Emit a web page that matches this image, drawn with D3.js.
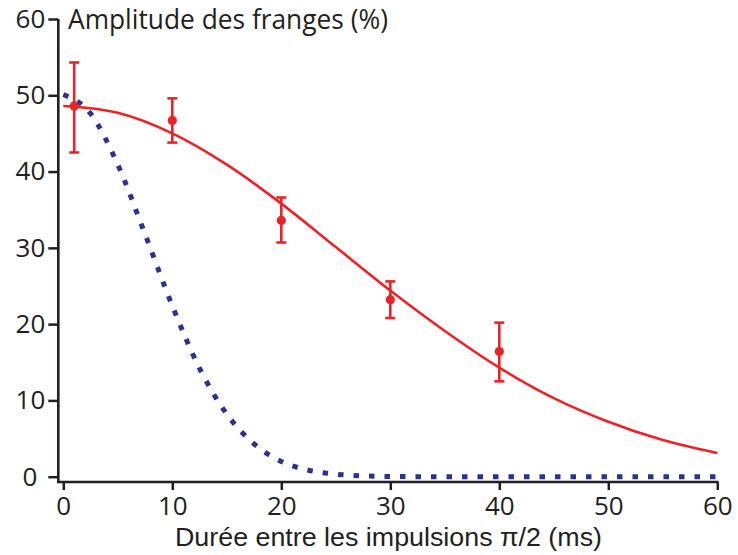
<!DOCTYPE html>
<html>
<head>
<meta charset="utf-8">
<script src="https://cdn.jsdelivr.net/npm/d3@7"></script>
<style>
  html, body { margin: 0; padding: 0; background: #fff; }
  svg { display: block; }
  text { font-family: "Open Sans", "Noto Sans", sans-serif; fill: #231f20; }
  .xfont { font-family: "Liberation Sans", Arial, sans-serif; }
</style>
</head>
<body>
<svg id="chart" width="738" height="555"></svg>
<script>
// Measured fringe amplitude (%) versus delay between the two pi/2 pulses (ms)
const delays = [1, 10, 20, 30, 40];
const amplitude = [48.6, 46.7, 33.6, 23.2, 16.4];
const errLow = [42.5, 43.8, 30.7, 20.8, 12.5];
const errHigh = [54.3, 49.6, 36.6, 25.6, 20.2];

// Fitted decay of the measured amplitude
const fitT = [0, 5, 10, 15, 20, 25, 30, 35, 40, 45, 50, 55, 60];
const fitA = [48.6, 47.7, 45.0, 40.9, 35.8, 30.1, 24.4, 19.1, 14.3, 10.3, 7.2, 4.8, 3.1];

// Expected decay without compensation (dotted)
const refT = [0, 2.5, 5, 7.5, 10, 12.5, 15, 17.5, 20, 22.5, 25, 27.5, 30, 35, 40, 45, 50, 55, 60];
const refA = [50.1, 47.6, 40.9, 31.8, 22.4, 14.2, 8.2, 4.3, 2.0, 0.85, 0.33, 0.11, 0.03, 0, 0, 0, 0, 0, 0];

const xTicks = [0, 10, 20, 30, 40, 50, 60];
const yTicks = [0, 10, 20, 30, 40, 50, 60];

const titleText = "Amplitude des franges (%)";
const xLabelText = "Durée entre les impulsions π/2 (ms)";

const RED = "#ec2227";
const BLUE = "#2e3192";
const INK = "#231f20";

const svg = d3.select("#chart");

const x = d3.scaleLinear().domain([0, 60]).range([63.3, 717.3]);
const y = d3.scaleLinear().domain([0, 60]).range([476.7, 19]);

const axisX0 = 58.3;   // y axis sits a little left of x = 0
const axisY0 = 482;    // x axis sits a little below y = 0

// Axes
const yAxis = d3.axisLeft(y).tickValues(yTicks).tickSize(10).tickSizeOuter(0).tickPadding(3);
const gy = svg.append("g").attr("transform", `translate(${axisX0},0)`).call(yAxis);
gy.select(".domain").remove();
gy.selectAll(".tick line").attr("stroke", INK).attr("stroke-width", 2.5);
gy.selectAll(".tick text").attr("font-size", 26).attr("fill", INK)
  .attr("dx", d => d === 0 ? -8 : 0);

const xAxis = d3.axisBottom(x).tickValues(xTicks).tickSize(8).tickSizeOuter(0).tickPadding(8);
const gx = svg.append("g").attr("transform", `translate(0,${axisY0})`).call(xAxis);
gx.select(".domain").remove();
gx.selectAll(".tick line").attr("stroke", INK).attr("stroke-width", 2.5);
gx.selectAll(".tick text").attr("font-size", 26).attr("fill", INK)
  .attr("dy", null).attr("y", 32.5);

// Axis lines
svg.append("path")
  .attr("d", `M${axisX0},${y(60)}V${axisY0}H${x(60) + 1.2}`)
  .attr("fill", "none").attr("stroke", INK).attr("stroke-width", 2.6)
  .attr("stroke-linejoin", "miter");

// Dotted reference curve
const refLine = d3.line().x(d => x(d[0])).y(d => y(d[1])).curve(d3.curveMonotoneX);
svg.append("path")
  .attr("d", refLine(refT.map((t, i) => [t, refA[i]])))
  .attr("fill", "none").attr("stroke", BLUE).attr("stroke-width", 5)
  .attr("stroke-dasharray", "5.5 10").attr("stroke-linecap", "butt");

// Fitted curve
const fitLine = d3.line().x(d => x(d[0])).y(d => y(d[1])).curve(d3.curveMonotoneX);
svg.append("path")
  .attr("d", fitLine(fitT.map((t, i) => [t, fitA[i]])))
  .attr("fill", "none").attr("stroke", RED).attr("stroke-width", 2.6);

// Error bars and points
const pts = delays.map((t, i) => ({ t, a: amplitude[i], lo: errLow[i], hi: errHigh[i] }));
const gp = svg.append("g").attr("stroke", RED).attr("stroke-width", 2.6);
gp.selectAll("line.bar").data(pts).join("line").attr("class", "bar")
  .attr("x1", d => x(d.t)).attr("x2", d => x(d.t))
  .attr("y1", d => y(d.lo)).attr("y2", d => y(d.hi));
gp.selectAll("line.capHi").data(pts).join("line").attr("class", "capHi")
  .attr("x1", d => x(d.t) - 5).attr("x2", d => x(d.t) + 5)
  .attr("y1", d => y(d.hi)).attr("y2", d => y(d.hi));
gp.selectAll("line.capLo").data(pts).join("line").attr("class", "capLo")
  .attr("x1", d => x(d.t) - 5).attr("x2", d => x(d.t) + 5)
  .attr("y1", d => y(d.lo)).attr("y2", d => y(d.lo));
svg.selectAll("circle.pt").data(pts).join("circle").attr("class", "pt")
  .attr("cx", d => x(d.t)).attr("cy", d => y(d.a)).attr("r", 4.6)
  .attr("fill", RED);

// Titles
svg.append("text").attr("x", 68).attr("y", 28.5)
  .attr("font-size", 27).attr("textLength", 320).attr("lengthAdjust", "spacingAndGlyphs")
  .text(titleText);
svg.append("text").attr("class", "xfont").attr("x", 175).attr("y", 546)
  .attr("font-size", 26).attr("textLength", 427).attr("lengthAdjust", "spacingAndGlyphs")
  .text(xLabelText);
</script>
</body>
</html>
